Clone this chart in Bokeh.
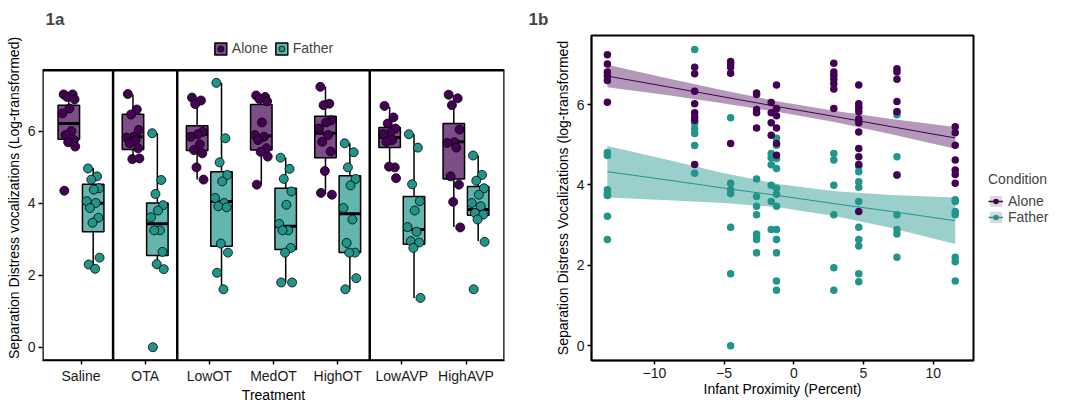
from bokeh.plotting import figure
from bokeh.models import Range1d, FixedTicker, Legend, LegendItem, ColumnDataSource
from bokeh.layouts import row
from bokeh.embed import file_html
from bokeh.resources import INLINE

# ---------------- data: panel 1a ----------------
treatments = ["Saline", "OTA", "LowOT", "MedOT", "HighOT", "LowAVP", "HighAVP"]
dividers_after = ["Saline", "OTA", "HighOT"]

alone_saline = [7.03, 7.03, 6.96, 6.89, 6.64, 6.50, 6.01, 5.90, 5.76, 5.70, 5.58, 4.35]
alone_ota = [7.04, 6.61, 6.47, 6.04, 5.85, 5.83, 5.76, 5.67, 5.53, 5.23, 5.25]
alone_lowot = [6.94, 6.86, 6.76, 5.99, 5.92, 5.85, 5.64, 5.48, 5.39, 5.00, 4.66]
alone_medot = [7.00, 6.96, 6.90, 6.84, 6.25, 5.90, 5.85, 5.76, 5.53, 5.43, 5.30, 4.52]
alone_highot = [7.24, 6.77, 6.73, 6.31, 6.25, 6.08, 5.90, 5.71, 5.44, 4.90, 4.24, 4.29]
alone_lowavp = [6.71, 6.39, 6.22, 6.08, 5.95, 5.93, 5.76, 5.71, 5.00, 5.02, 4.70]
alone_highavp = [7.02, 6.92, 6.73, 6.05, 5.70, 5.68, 5.55, 4.75, 4.52, 4.04, 3.33]

father_saline = [4.97, 4.75, 4.66, 4.42, 4.38, 4.06, 4.01, 3.87, 3.60, 3.46, 2.49, 2.30, 2.18]
father_ota = [5.95, 4.65, 4.26, 3.95, 3.80, 3.61, 3.25, 3.25, 2.65, 2.31, 2.17, 0.00]
father_lowot = [7.35, 5.81, 5.14, 4.79, 4.61, 4.15, 4.01, 3.92, 3.89, 2.88, 2.63, 2.07, 1.61]
father_medot = [5.27, 4.96, 4.68, 4.33, 3.96, 3.43, 3.25, 3.25, 2.76, 2.63, 1.80, 1.80]
father_highot = [5.67, 5.42, 5.00, 4.68, 4.50, 3.87, 3.55, 2.90, 2.63, 2.63, 1.92, 1.61]
father_lowavp = [5.92, 5.55, 4.53, 4.06, 3.80, 3.34, 3.21, 2.95, 2.91, 2.76, 1.37]
father_highavp = [5.33, 4.79, 4.63, 4.42, 4.24, 4.01, 3.92, 3.73, 3.69, 3.55, 2.93, 1.61]

# box statistics (per treatment)
alone_q1 = [5.78, 5.50, 5.47, 5.48, 5.27, 5.55, 4.68]
alone_med = [6.22, 5.85, 5.92, 5.88, 5.95, 5.83, 5.71]
alone_q3 = [6.73, 6.48, 6.16, 6.75, 6.42, 6.11, 6.22]
alone_lo = [5.58, 5.23, 4.66, 4.52, 4.26, 5.00, 3.34]
alone_hi = [7.03, 7.03, 6.91, 7.00, 7.24, 6.68, 7.00]

father_q1 = [3.21, 2.55, 2.81, 2.72, 2.63, 2.86, 3.67]
father_med = [4.00, 3.43, 4.05, 3.36, 3.71, 3.27, 3.83]
father_q3 = [4.53, 4.01, 4.88, 4.42, 4.77, 4.19, 4.47]
father_lo = [2.18, 2.17, 1.61, 1.80, 1.61, 1.37, 2.95]
father_hi = [4.98, 5.95, 7.35, 5.27, 5.67, 5.92, 5.33]

# ---------------- data: panel 1b ----------------
alone_prox = ([-13.37] * 6 + [-7.11] * 8 + [-4.53] * 5 + [-2.67] * 5 + [-1.62] * 4
              + [-1.24] * 6 + [2.87] * 7 + [4.66] * 11 + [7.40] * 6 + [11.58] * 7)
alone_svd = [7.24, 7.01, 6.81, 6.71, 6.60, 6.06,
             6.93, 6.77, 6.33, 6.02, 5.80, 5.69, 5.61, 4.51,
             7.07, 7.01, 6.93, 6.78, 5.03,
             6.29, 6.25, 5.88, 5.80, 5.42,
             6.05, 5.80, 5.55, 5.24,
             6.49, 5.90, 5.72, 5.42, 5.03, 4.74,
             7.03, 6.81, 6.73, 6.63, 6.52, 6.39, 5.90,
             6.49, 6.02, 5.92, 5.82, 5.64, 5.55, 5.32, 4.91, 4.70, 4.51, 3.34,
             6.89, 6.81, 6.63, 6.08, 5.82, 4.25,
             5.45, 5.30, 4.99, 4.62, 4.37, 4.26, 4.04]

father_prox = ([-13.37] * 7 + [-7.11] * 6 + [-4.53] * 7 + [-2.67] * 8 + [-1.62] * 6
               + [-1.24] * 13 + [2.87] * 6 + [4.66] * 11 + [7.40] * 8 + [11.58] * 7)
father_svd = [4.81, 4.73, 3.88, 3.79, 3.74, 3.22, 2.64,
              7.37, 5.53, 5.40, 5.28, 4.98, 4.29,
              5.67, 4.04, 3.88, 3.79, 2.95, 1.79, 0.00,
              4.15, 3.71, 3.47, 3.26, 2.78, 2.72, 2.64, 2.31,
              4.78, 4.68, 4.50, 3.99, 3.59, 2.89,
              5.90, 5.16, 4.99, 4.66, 4.41, 3.92, 3.77, 3.47, 2.89, 2.64, 2.31, 1.61, 1.38,
              4.78, 4.62, 3.99, 3.26, 1.94, 1.38,
              5.94, 4.46, 4.33, 4.08, 3.94, 3.59, 2.95, 2.64, 2.48, 1.79, 1.59,
              5.83, 5.75, 4.70, 4.25, 3.26, 2.89, 2.78, 2.20,
              3.63, 3.59, 3.34, 3.26, 2.20, 2.09, 1.61]

fit_x = [-13.37, -9.0, -5.0, -1.0, 3.0, 7.0, 11.58]
alone_fit = [6.71, 6.44, 6.19, 5.94, 5.70, 5.45, 5.17]
alone_lower = [6.43, 6.23, 6.03, 5.81, 5.56, 5.26, 4.90]
alone_upper = [6.99, 6.65, 6.35, 6.07, 5.84, 5.64, 5.44]
father_fit = [4.33, 4.12, 3.92, 3.73, 3.53, 3.34, 3.11]
father_lower = [3.69, 3.62, 3.55, 3.44, 3.22, 2.93, 2.53]
father_upper = [4.97, 4.62, 4.29, 4.02, 3.84, 3.75, 3.69]

# ---------------- styling ----------------
FONT = "Liberation Sans"
PURPLE = "#440154"
TEAL = "#22958B"
JIT = [-0.08, 0.06, -0.03, 0.09, 0.01, -0.10, 0.04, -0.05, 0.08, -0.01, 0.10, -0.07, 0.03]
DODGE = 0.19
BOX_W = 0.335
H = 407

# panel 1a: data box limits, plus headroom inside the frame for the legend
A_X0, A_X1 = 0.4, 7.6
A_Y0, A_Y1 = -0.37, 7.70
FRAME_TOP, BOX_TOP, FRAME_BOTTOM = 33, 68, 360   # px inside the canvas
A_Y1_EXT = A_Y1 + (BOX_TOP - FRAME_TOP) * (A_Y1 - A_Y0) / (FRAME_BOTTOM - BOX_TOP)


def style(p):
    p.grid.visible = False
    for ax in p.axis:
        ax.axis_line_color = "black"
        ax.axis_line_width = 1.5
        ax.major_tick_line_color = "black"
        ax.major_tick_line_width = 1.5
        ax.major_tick_out = 4
        ax.major_tick_in = 0
        ax.minor_tick_line_color = None
        ax.major_label_text_font = FONT
        ax.major_label_text_font_size = "14px"
        ax.major_label_text_color = "#1a1a1a"
        ax.axis_label_text_font = FONT
        ax.axis_label_text_font_size = "14px"
        ax.axis_label_text_font_style = "normal"
        ax.axis_label_text_color = "black"
    p.xaxis.major_label_standoff = 3
    p.xaxis.axis_label_standoff = 0
    p.yaxis.major_label_standoff = 3
    p.yaxis.axis_label_standoff = 3
    p.title.text_font = FONT
    p.title.text_font_size = "17px"
    p.title.text_font_style = "bold"
    p.title.align = "left"
    p.title.standoff = 14


# ---------------- panel 1a ----------------
p1 = figure(width=520, height=H, x_range=Range1d(A_X0, A_X1), y_range=Range1d(A_Y0, A_Y1_EXT),
            output_backend="svg", toolbar_location=None, title="1a",
            min_border_left=42, min_border_right=16, min_border_top=FRAME_TOP,
            min_border_bottom=H - FRAME_BOTTOM)
style(p1)
p1.outline_line_color = None
p1.yaxis.axis_line_color = None
p1.title.offset = 3
p1.xaxis.ticker = FixedTicker(ticks=[i + 1 for i in range(len(treatments))])
p1.xaxis.major_label_overrides = {i + 1: t for i, t in enumerate(treatments)}
p1.yaxis.ticker = FixedTicker(ticks=[0, 2, 4, 6])
p1.xaxis.axis_label = "Treatment"
p1.yaxis.axis_label = "Separation Distress vocalizations (Log-transformed)"

# panel box and group dividers
p1.quad(left=[A_X0], right=[A_X1], bottom=[A_Y0], top=[A_Y1], fill_color=None,
        line_color="black", line_width=2.5)
div_x = [treatments.index(t) + 1.5 for t in dividers_after]
p1.segment(x0=div_x, x1=div_x, y0=[A_Y0] * len(div_x), y1=[A_Y1] * len(div_x),
           line_color="black", line_width=2.5)


def draw_boxes(p, offset, q1, med, q3, lo, hi, color):
    xs = [i + 1 + offset for i in range(len(treatments))]
    src = ColumnDataSource(dict(x=xs, xl=[x - BOX_W / 2 for x in xs], xr=[x + BOX_W / 2 for x in xs],
                                q1=q1, med=med, q3=q3, lo=lo, hi=hi))
    p.segment(x0="x", x1="x", y0="q3", y1="hi", source=src, line_color="black", line_width=1.5)
    p.segment(x0="x", x1="x", y0="lo", y1="q1", source=src, line_color="black", line_width=1.5)
    r = p.vbar(x="x", width=BOX_W, bottom="q1", top="q3", source=src, fill_color=color,
               fill_alpha=0.7, line_color="black", line_width=1.5)
    p.segment(x0="xl", x1="xr", y0="med", y1="med", source=src, line_color="black", line_width=3)
    return r


def draw_points(p, groups, offset, color):
    xs, ys = [], []
    for i, vals in enumerate(groups):
        for j, v in enumerate(vals):
            xs.append(i + 1 + offset + JIT[j % len(JIT)])
            ys.append(v)
    return p.scatter(x=xs, y=ys, size=9, fill_color=color, line_color="black", line_width=0.8)


alone_groups = [alone_saline, alone_ota, alone_lowot, alone_medot, alone_highot, alone_lowavp, alone_highavp]
father_groups = [father_saline, father_ota, father_lowot, father_medot, father_highot, father_lowavp, father_highavp]

box_a = draw_boxes(p1, -DODGE, alone_q1, alone_med, alone_q3, alone_lo, alone_hi, PURPLE)
box_f = draw_boxes(p1, DODGE, father_q1, father_med, father_q3, father_lo, father_hi, TEAL)
pts_a = draw_points(p1, alone_groups, -DODGE, PURPLE)
pts_f = draw_points(p1, father_groups, DODGE, TEAL)

leg1 = Legend(items=[LegendItem(label="Alone", renderers=[box_a, pts_a]),
                     LegendItem(label="Father", renderers=[box_f, pts_f])],
              orientation="horizontal", location="top_center", padding=0, margin=5, spacing=6,
              glyph_width=15, glyph_height=15, label_standoff=4, label_height=15,
              label_text_font=FONT, label_text_font_size="14px",
              background_fill_alpha=0, border_line_color=None)
p1.add_layout(leg1)

# ---------------- panel 1b ----------------
p2 = figure(width=455, height=H, x_range=Range1d(-14.51, 12.89), y_range=Range1d(-0.37, 7.72),
            output_backend="svg", toolbar_location=None, title="1b",
            min_border_left=71, min_border_right=2, min_border_top=FRAME_TOP,
            min_border_bottom=H - FRAME_BOTTOM)
style(p2)
p2.outline_line_color = "black"
p2.outline_line_width = 2
p2.title.offset = -63
p2.xaxis.ticker = FixedTicker(ticks=[-10, -5, 0, 5, 10])
p2.yaxis.ticker = FixedTicker(ticks=[0, 2, 4, 6])
p2.xaxis.axis_label = "Infant Proximity (Percent)"
p2.yaxis.axis_label = "Separation Distress Vocalizations (log-transformed"

band_a = ColumnDataSource(dict(x=fit_x, y=alone_fit, lo=alone_lower, hi=alone_upper))
band_f = ColumnDataSource(dict(x=fit_x, y=father_fit, lo=father_lower, hi=father_upper))
p2.varea(x="x", y1="lo", y2="hi", source=band_a, fill_color=PURPLE, fill_alpha=0.4)
p2.varea(x="x", y1="lo", y2="hi", source=band_f, fill_color=TEAL, fill_alpha=0.45)

p2.scatter(x=father_prox, y=father_svd, size=7.5, fill_color=TEAL, line_color=None)
p2.scatter(x=alone_prox, y=alone_svd, size=7.5, fill_color=PURPLE, line_color=None)
p2.line(x="x", y="y", source=band_a, line_color=PURPLE, line_width=1)
p2.line(x="x", y="y", source=band_f, line_color=TEAL, line_width=1)

# ---------------- legend for 1b (its own canvas to the right) ----------------
lg = figure(width=99, height=H, x_range=Range1d(0, 1), y_range=Range1d(0, 1),
            output_backend="svg", toolbar_location=None, min_border=0, min_border_bottom=14,
            x_axis_location=None, y_axis_location=None)
lg.grid.visible = False
lg.outline_line_color = None
key_bg = lg.rect(x=[5], y=[5], width=1, height=1, fill_color="#D9D9D9", line_color=None)
k_line_a = lg.line(x=[5, 6], y=[5, 6], line_color=PURPLE, line_width=1.5)
k_pt_a = lg.scatter(x=[5], y=[5], size=7.5, fill_color=PURPLE, line_color=None)
k_line_f = lg.line(x=[5, 6], y=[5, 6], line_color=TEAL, line_width=1.5)
k_pt_f = lg.scatter(x=[5], y=[5], size=7.5, fill_color=TEAL, line_color=None)

leg2 = Legend(items=[LegendItem(label="Alone", renderers=[key_bg, k_line_a, k_pt_a]),
                     LegendItem(label="Father", renderers=[key_bg, k_line_f, k_pt_f])],
              title="Condition", location="center_left", padding=3, margin=13, spacing=0,
              glyph_width=15, glyph_height=14, label_standoff=5, label_height=14,
              label_text_font=FONT, label_text_font_size="14px",
              title_text_font=FONT, title_text_font_size="14px", title_text_font_style="normal",
              title_standoff=6, background_fill_alpha=0, border_line_color=None)
lg.add_layout(leg2)

layout = row(p1, p2, lg)
open("out.html", "w").write(file_html(layout, INLINE))
